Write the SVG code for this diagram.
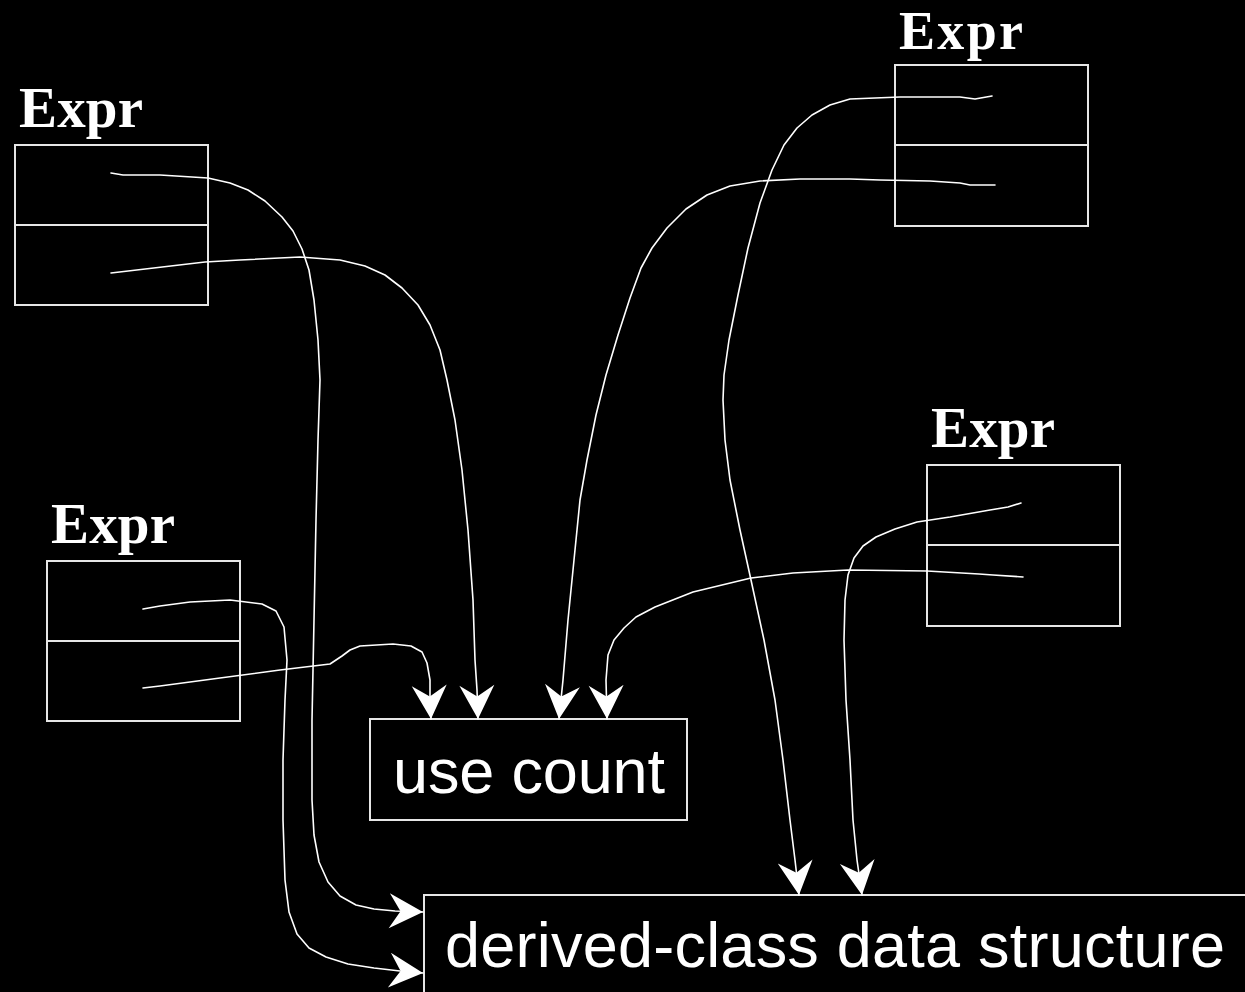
<svg xmlns="http://www.w3.org/2000/svg" width="1245" height="992" viewBox="0 0 1245 992">
<style>
.box{fill:none;stroke:#e6e6e6;stroke-width:2}
.lbl{font-family:"Liberation Serif","Times New Roman",serif;font-weight:bold;font-size:57px;fill:#fff}
.big{font-family:"Liberation Sans",Arial,sans-serif;font-size:63px;fill:#fff}
.con{fill:none;stroke:#fff;stroke-width:1.6;stroke-linejoin:round;stroke-linecap:round;marker-end:url(#ah)}
</style>
<defs>
<marker id="ah" markerUnits="userSpaceOnUse" markerWidth="40" markerHeight="40" viewBox="-28 -16 30 32" refX="0" refY="0" orient="auto">
<path d="M0,0 L-27,-14 L-18,0 L-27,14 Z" fill="#fff"/>
</marker>
</defs>
<rect width="1245" height="992" fill="#000"/>
<g id="exprA">
<text class="lbl" x="19" y="127" textLength="124">Expr</text>
<rect class="box" x="15" y="145" width="193" height="160"/>
<line class="box" x1="15" y1="225" x2="208" y2="225"/>
</g>
<g id="exprB">
<text class="lbl" x="899" y="49" textLength="124" style="font-size:54px">Expr</text>
<rect class="box" x="895" y="65" width="193" height="161"/>
<line class="box" x1="895" y1="145" x2="1088" y2="145"/>
</g>
<g id="exprC">
<text class="lbl" x="931" y="447" textLength="124">Expr</text>
<rect class="box" x="927" y="465" width="193" height="161"/>
<line class="box" x1="927" y1="545" x2="1120" y2="545"/>
</g>
<g id="exprD">
<text class="lbl" x="51" y="543" textLength="124">Expr</text>
<rect class="box" x="47" y="561" width="193" height="160"/>
<line class="box" x1="47" y1="641" x2="240" y2="641"/>
</g>
<g id="usecount">
<rect class="box" x="370" y="719" width="317" height="101"/>
<text class="big" x="393" y="793" textLength="272">use count</text>
</g>
<g id="derived">
<rect class="box" x="424" y="895" width="840" height="120"/>
<text class="big" x="445" y="967" textLength="780">derived-class data structure</text>
</g>
<g id="connectors">
<path class="con" d="M111,173 L123,175 L160,175 L208,178 L230,183 L248,190 L265,201 L282,217 L293,231 L302,249 L309,270 L314,300 L318,340 L320,380 L318,440 L316,520 L314,620 L312,720 L312,800 L314,835 L319,862 L328,882 L340,896 L356,905 L374,909 L395,911 L423,912"/>
<path class="con" d="M111,273 L205,262 L240,260 L300,257 L340,260 L365,266 L385,275 L402,288 L418,305 L430,325 L440,350 L447,380 L455,420 L462,470 L468,530 L473,600 L475,660 L477,690 L478,719"/>
<path class="con" d="M143,609 L160,606 L190,602 L230,600 L262,604 L276,611 L284,627 L287,660 L285,700 L283,760 L283,820 L285,880 L289,912 L297,934 L309,948 L326,957 L348,964 L374,968 L400,971 L423,973"/>
<path class="con" d="M143,688 L160,686 L220,678 L280,670 L330,664 L342,656 L350,650 L360,646 L393,644 L411,646 L422,652 L427,663 L430,680 L430,700 L431,719"/>
<path class="con" d="M992,96 L975,99 L960,97 L900,97 L850,99 L830,105 L812,115 L797,128 L784,145 L772,170 L760,203 L748,248 L738,295 L729,340 L724,375 L723,400 L725,440 L730,480 L740,530 L751,580 L764,640 L775,700 L783,760 L790,820 L795,860 L799,895"/>
<path class="con" d="M995,185 L970,185 L960,183 L930,181 L880,180 L850,179 L800,179 L760,181 L730,186 L707,195 L686,209 L667,228 L652,248 L641,268 L630,298 L618,335 L606,375 L596,415 L587,460 L580,500 L574,560 L568,620 L563,680 L559,719"/>
<path class="con" d="M1021,503 L1008,507 L990,510 L950,517 L917,522 L895,529 L876,537 L863,546 L854,558 L848,575 L845,600 L844,640 L846,700 L850,760 L853,820 L857,860 L862,895"/>
<path class="con" d="M1023,577 L993,575 L979,574 L927,571 L848,570 L793,573 L751,578 L693,592 L655,607 L636,617 L624,628 L614,640 L608,655 L606,680 L607,719"/>
</g>
</svg>
